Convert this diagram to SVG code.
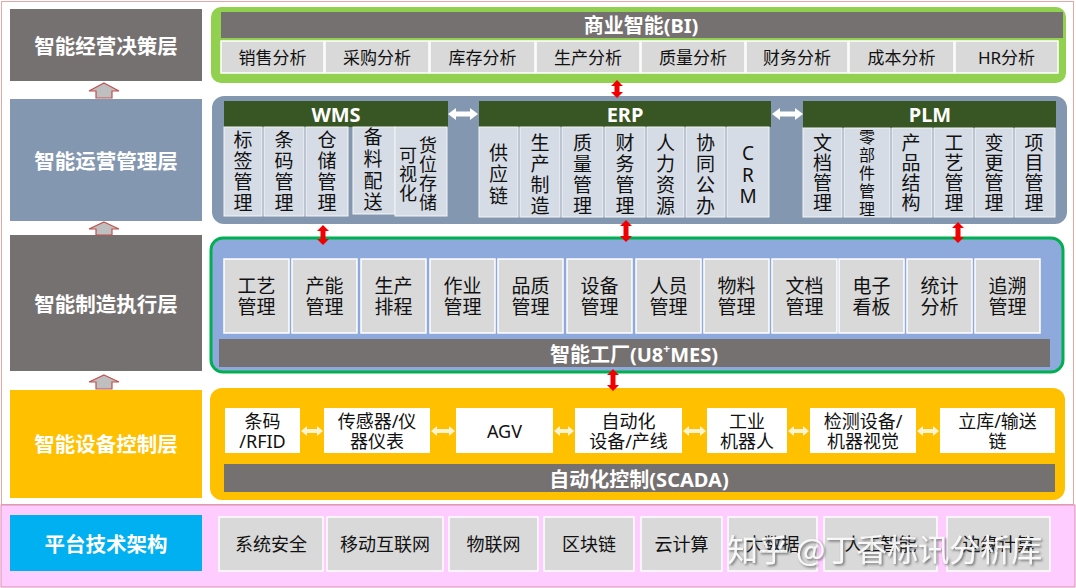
<svg xmlns="http://www.w3.org/2000/svg" width="1076" height="588" viewBox="0 0 1076 588">
<defs>
<style>
text{font-family:"Noto Sans","Noto Sans CJK SC",sans-serif;dominant-baseline:central;text-anchor:middle}
.lbl{font-family:"Noto Sans CJK SC",sans-serif;font-weight:bold;font-size:20.5px;fill:#fff}
.ttl{font-weight:bold;font-size:20px;fill:#fff}
.c17{font-size:17px;fill:#111}
.c18{font-size:18px;fill:#111}
.c19{font-size:19px;fill:#111}
.v{font-size:19px;fill:#111}
.v18{font-size:18px;fill:#111}
.v16{font-size:16px;fill:#111}
.vt{writing-mode:vertical-rl;font-family:"Noto Sans CJK SC",sans-serif}
.gc{fill:#D9D9D9;stroke:#fff;stroke-width:1.5}
.oc{fill:#D6DCE5;stroke:#F4F4F4;stroke-width:1}
.wc{fill:#fff}
.bar{fill:#767171}
.gbar{fill:#375623}
.upa{fill:#BFBFBF;stroke:#C0504D;stroke-width:1.2}
.ra{fill:#F00000}
.wa{fill:#fff}
.ya{fill:#FFF3D0}
.wm{font-family:"Noto Sans CJK SC",sans-serif;font-size:31px;fill:#fff;fill-opacity:.88;text-anchor:start}
</style>
<filter id="sh" x="-5%" y="-20%" width="110%" height="140%">
<feDropShadow dx="1.5" dy="1.5" stdDeviation="0.8" flood-color="#444" flood-opacity="0.8"/>
</filter>
</defs>

<g id="background">
<rect x="0" y="0" width="1076" height="588" fill="#fff"/>
<rect x="1.5" y="1.5" width="1072" height="503" fill="#fff" stroke="#E8A6A6" stroke-width="1"/>
<rect x="1" y="505" width="1074" height="82" fill="#FFCCFF" stroke="#D98FB0" stroke-width="1"/>
</g>

<!-- left layer labels -->
<g id="label-decision"><rect x="10" y="9" width="192" height="72" fill="#767171"/><text class="lbl" x="106" y="45">智能经营决策层</text></g>
<g id="label-operation"><rect x="10" y="99" width="192" height="122" fill="#8497B0"/><text class="lbl" x="106" y="160">智能运营管理层</text></g>
<g id="label-execution"><rect x="10" y="235" width="192" height="136" fill="#767171"/><text class="lbl" x="106" y="303">智能制造执行层</text></g>
<g id="label-control"><rect x="10" y="390" width="192" height="108" fill="#FFC000"/><text class="lbl" x="106" y="443">智能设备控制层</text></g>
<g id="label-platform"><rect x="10" y="515" width="192" height="56" fill="#00B0F0"/><text class="lbl" x="106" y="543">平台技术架构</text></g>

<!-- BI panel -->
<g id="bi-panel">
<rect x="211" y="7" width="855" height="76" rx="10" fill="#92D050"/>
<rect class="bar" x="221" y="12" width="842" height="26"/>
<text class="ttl" x="641" y="25">商业智能(BI)</text>
<g id="bi-sales"><rect class="gc" x="221" y="41" width="103" height="32"/><text class="c17" x="272.5" y="57">销售分析</text></g>
<g id="bi-purchase"><rect class="gc" x="325" y="41" width="104" height="32"/><text class="c17" x="377" y="57">采购分析</text></g>
<g id="bi-inventory"><rect class="gc" x="430" y="41" width="105" height="32"/><text class="c17" x="482.5" y="57">库存分析</text></g>
<g id="bi-production"><rect class="gc" x="536" y="41" width="104" height="32"/><text class="c17" x="588" y="57">生产分析</text></g>
<g id="bi-quality"><rect class="gc" x="641" y="41" width="104" height="32"/><text class="c17" x="693" y="57">质量分析</text></g>
<g id="bi-finance"><rect class="gc" x="746" y="41" width="102" height="32"/><text class="c17" x="797" y="57">财务分析</text></g>
<g id="bi-cost"><rect class="gc" x="849" y="41" width="105" height="32"/><text class="c17" x="901.5" y="57">成本分析</text></g>
<g id="bi-hr"><rect class="gc" x="955" y="41" width="103" height="32"/><text class="c17" x="1006.5" y="57">HR分析</text></g>
</g>

<!-- Operations panel -->
<g id="ops-panel">
<rect x="212" y="96" width="855" height="128" rx="12" fill="#8497B0"/>
</g>

<g id="wms">
<rect class="gbar" x="224" y="101" width="224" height="26"/>
<text class="ttl" x="336" y="114">WMS</text>
<g id="wms-label"><rect class="oc" x="224" y="127" width="38" height="89"/><text class="v vt" x="243" y="172.5" letter-spacing="2">标签管理</text></g>
<g id="wms-barcode"><rect class="oc" x="264" y="127" width="40" height="89"/><text class="v vt" x="284" y="172.5" letter-spacing="2">条码管理</text></g>
<g id="wms-storage"><rect class="oc" x="306" y="127" width="42" height="89"/><text class="v vt" x="327" y="172.5" letter-spacing="2">仓储管理</text></g>
<g id="wms-kitting"><rect class="oc" x="353" y="127" width="42" height="87"/><text class="v vt" x="373" y="171" letter-spacing="2.7">备料配送</text></g>
<g id="wms-location"><rect class="oc" x="395" y="127" width="52" height="89"/><text class="v18 vt" x="428" y="174" letter-spacing="1">货位存储</text><text class="v18 vt" x="408" y="174.5" letter-spacing="1">可视化</text></g>
</g>

<g id="erp">
<rect class="gbar" x="479" y="101" width="292" height="26"/>
<text class="ttl" x="625" y="114">ERP</text>
<g id="erp-scm"><rect class="oc" x="479" y="127" width="39" height="90"/><text class="v vt" x="498.5" y="175.5" letter-spacing="2.5">供应链</text></g>
<g id="erp-mfg"><rect class="oc" x="520" y="127" width="40" height="90"/><text class="v vt" x="540" y="175.5" letter-spacing="2">生产制造</text></g>
<g id="erp-qm"><rect class="oc" x="562" y="127" width="41" height="90"/><text class="v vt" x="582.5" y="175.5" letter-spacing="2">质量管理</text></g>
<g id="erp-fin"><rect class="oc" x="605" y="127" width="40" height="90"/><text class="v vt" x="625" y="175.5" letter-spacing="2">财务管理</text></g>
<g id="erp-hr"><rect class="oc" x="647" y="127" width="37" height="90"/><text class="v vt" x="665.5" y="175.5" letter-spacing="2">人力资源</text></g>
<g id="erp-oa"><rect class="oc" x="686" y="127" width="39" height="90"/><text class="v vt" x="705.5" y="175.5" letter-spacing="2">协同公办</text></g>
<g id="erp-crm"><rect class="oc" x="727" y="127" width="42" height="90"/><text class="v"><tspan x="748" y="153">C</tspan><tspan x="748" y="175">R</tspan><tspan x="748" y="196">M</tspan></text></g>
</g>

<g id="plm">
<rect class="gbar" x="803" y="101" width="253" height="27"/>
<text class="ttl" x="930" y="114">PLM</text>
<g id="plm-doc"><rect class="oc" x="803" y="128" width="39" height="89"/><text class="v vt" x="822.5" y="173.5" letter-spacing="1">文档管理</text></g>
<g id="plm-parts"><rect class="oc" x="844" y="128" width="46" height="89"/><text class="v16 vt" x="867" y="174" letter-spacing="2">零部件管理</text></g>
<g id="plm-bom"><rect class="oc" x="892" y="128" width="40" height="89"/><text class="v vt" x="911" y="173.5" letter-spacing="1">产品结构</text></g>
<g id="plm-process"><rect class="oc" x="934" y="128" width="39" height="89"/><text class="v vt" x="954" y="173.5" letter-spacing="1">工艺管理</text></g>
<g id="plm-change"><rect class="oc" x="975" y="128" width="38" height="89"/><text class="v vt" x="994" y="173.5" letter-spacing="1">变更管理</text></g>
<g id="plm-project"><rect class="oc" x="1015" y="128" width="40" height="89"/><text class="v vt" x="1034" y="173.5" letter-spacing="1">项目管理</text></g>
</g>

<!-- MES panel -->
<g id="mes-panel">
<rect x="211" y="238" width="852" height="134" rx="12" fill="#8EA9DB" stroke="#00B050" stroke-width="3"/>
<g id="mes-1"><rect class="gc" x="224" y="259" width="65" height="74"/><text class="c19"><tspan x="256.5" y="286">工艺</tspan><tspan x="256.5" y="307">管理</tspan></text></g>
<g id="mes-2"><rect class="gc" x="292" y="259" width="65" height="74"/><text class="c19"><tspan x="324.5" y="286">产能</tspan><tspan x="324.5" y="307">管理</tspan></text></g>
<g id="mes-3"><rect class="gc" x="361" y="259" width="65" height="74"/><text class="c19"><tspan x="393.5" y="286">生产</tspan><tspan x="393.5" y="307">排程</tspan></text></g>
<g id="mes-4"><rect class="gc" x="430" y="259" width="65" height="74"/><text class="c19"><tspan x="462.5" y="286">作业</tspan><tspan x="462.5" y="307">管理</tspan></text></g>
<g id="mes-5"><rect class="gc" x="498" y="259" width="65" height="74"/><text class="c19"><tspan x="530.5" y="286">品质</tspan><tspan x="530.5" y="307">管理</tspan></text></g>
<g id="mes-6"><rect class="gc" x="567" y="259" width="65" height="74"/><text class="c19"><tspan x="599.5" y="286">设备</tspan><tspan x="599.5" y="307">管理</tspan></text></g>
<g id="mes-7"><rect class="gc" x="636" y="259" width="65" height="74"/><text class="c19"><tspan x="668.5" y="286">人员</tspan><tspan x="668.5" y="307">管理</tspan></text></g>
<g id="mes-8"><rect class="gc" x="704" y="259" width="65" height="74"/><text class="c19"><tspan x="736.5" y="286">物料</tspan><tspan x="736.5" y="307">管理</tspan></text></g>
<g id="mes-9"><rect class="gc" x="772" y="259" width="65" height="74"/><text class="c19"><tspan x="804.5" y="286">文档</tspan><tspan x="804.5" y="307">管理</tspan></text></g>
<g id="mes-10"><rect class="gc" x="839" y="259" width="65" height="74"/><text class="c19"><tspan x="871.5" y="286">电子</tspan><tspan x="871.5" y="307">看板</tspan></text></g>
<g id="mes-11"><rect class="gc" x="907" y="259" width="65" height="74"/><text class="c19"><tspan x="939.5" y="286">统计</tspan><tspan x="939.5" y="307">分析</tspan></text></g>
<g id="mes-12"><rect class="gc" x="975" y="259" width="65" height="74"/><text class="c19"><tspan x="1007.5" y="286">追溯</tspan><tspan x="1007.5" y="307">管理</tspan></text></g>
<rect class="bar" x="219" y="339" width="831" height="28"/>
<text class="ttl" x="634" y="354">智能工厂(U8<tspan font-size="12" dy="-6">+</tspan><tspan dy="6">MES)</tspan></text>
</g>

<!-- SCADA panel -->
<g id="scada-panel">
<rect x="210" y="388" width="855" height="112" rx="12" fill="#FFC000"/>
<g id="sc-rfid"><rect class="wc" x="225" y="408" width="75" height="45"/><text class="c18"><tspan x="262.5" y="421">条码</tspan><tspan x="262.5" y="441">/RFID</tspan></text></g>
<g id="sc-sensor"><rect class="wc" x="324" y="408" width="106" height="45"/><text class="c18"><tspan x="377" y="421">传感器/仪</tspan><tspan x="377" y="441">器仪表</tspan></text></g>
<g id="sc-agv"><rect class="wc" x="456" y="408" width="97" height="45"/><text class="c18" x="504.5" y="431">AGV</text></g>
<g id="sc-auto"><rect class="wc" x="575" y="408" width="107" height="45"/><text class="c18"><tspan x="628.5" y="421">自动化</tspan><tspan x="628.5" y="441">设备/产线</tspan></text></g>
<g id="sc-robot"><rect class="wc" x="707" y="408" width="80" height="45"/><text class="c18"><tspan x="747" y="421">工业</tspan><tspan x="747" y="441">机器人</tspan></text></g>
<g id="sc-vision"><rect class="wc" x="810" y="408" width="106" height="45"/><text class="c18"><tspan x="863" y="421">检测设备/</tspan><tspan x="863" y="441">机器视觉</tspan></text></g>
<g id="sc-asrs"><rect class="wc" x="940" y="408" width="115" height="45"/><text class="c18"><tspan x="997.5" y="421">立库/输送</tspan><tspan x="997.5" y="441">链</tspan></text></g>
<rect class="bar" x="224" y="464" width="831" height="28"/>
<text class="ttl" x="639" y="479">自动化控制(SCADA)</text>
</g>

<!-- Platform row -->
<g id="platform">
<g id="pf-security"><rect class="gc" x="219" y="517" width="104" height="54"/><text class="c18" x="271" y="544">系统安全</text></g>
<g id="pf-mobile"><rect class="gc" x="327" y="517" width="116" height="54"/><text class="c18" x="385" y="544">移动互联网</text></g>
<g id="pf-iot"><rect class="gc" x="449" y="517" width="89" height="54"/><text class="c18" x="493.5" y="544">物联网</text></g>
<g id="pf-chain"><rect class="gc" x="544" y="517" width="90" height="54"/><text class="c18" x="589" y="544">区块链</text></g>
<g id="pf-cloud"><rect class="gc" x="641" y="517" width="81" height="54"/><text class="c18" x="681.5" y="544">云计算</text></g>
<g id="pf-bigdata"><rect class="gc" x="728" y="517" width="89" height="54"/><text class="c18" x="772.5" y="544">大数据</text></g>
<g id="pf-ai"><rect class="gc" x="824" y="517" width="113" height="54"/><text class="c18" x="880.5" y="544">人工智能</text></g>
<g id="pf-edge"><rect class="gc" x="947" y="517" width="103" height="54"/><text class="c18" x="998.5" y="544">边缘计算</text></g>
</g>

<!-- connectors -->
<g id="connectors">
<polygon class="upa" points="104,83 119,91 112,91 112,98 96,98 96,91 89,91"/>
<polygon class="upa" points="104,222 119,229 112,229 112,235 96,235 96,229 89,229"/>
<polygon class="upa" points="104,375 119,382 112,382 112,389 96,389 96,382 89,382"/>
<polygon class="ra" points="617,80 623,86 619.5,86 619.5,92 623,92 617,98 611,92 614.5,92 614.5,86 611,86"/>
<polygon class="ra" points="323,225 329,231 325.5,231 325.5,239 329,239 323,245 317,239 320.5,239 320.5,231 317,231"/>
<polygon class="ra" points="626,220 632,226 628.5,226 628.5,236 632,236 626,242 620,236 623.5,236 623.5,226 620,226"/>
<polygon class="ra" points="958,222 964,228 960.5,228 960.5,237 964,237 958,243 952,237 955.5,237 955.5,228 952,228"/>
<polygon class="ra" points="613,369 619,375 615.5,375 615.5,385 619,385 613,391 607,385 610.5,385 610.5,375 607,375"/>
<polygon class="wa" points="448,114 456,108 456,111.5 470,111.5 470,108 478,114 470,120 470,116.5 456,116.5 456,120"/>
<polygon class="wa" points="772,114 780,108 780,111.5 795,111.5 795,108 803,114 795,120 795,116.5 780,116.5 780,120"/>
<polygon class="ya" points="301,431 307,426 307,429 317,429 317,426 323,431 317,436 317,433 307,433 307,436"/>
<polygon class="ya" points="431,431 437,426 437,429 449,429 449,426 455,431 449,436 449,433 437,433 437,436"/>
<polygon class="ya" points="554,431 560,426 560,429 568,429 568,426 574,431 568,436 568,433 560,433 560,436"/>
<polygon class="ya" points="683,431 689,426 689,429 700,429 700,426 706,431 700,436 700,433 689,433 689,436"/>
<polygon class="ya" points="788,431 794,426 794,429 803,429 803,426 809,431 803,436 803,433 794,433 794,436"/>
<polygon class="ya" points="917,431 923,426 923,429 933,429 933,426 939,431 933,436 933,433 923,433 923,436"/>
</g>

<g id="watermark">
<text class="wm" x="727" y="547" filter="url(#sh)">知乎 @丁香标讯分析库</text>
</g>
</svg>
